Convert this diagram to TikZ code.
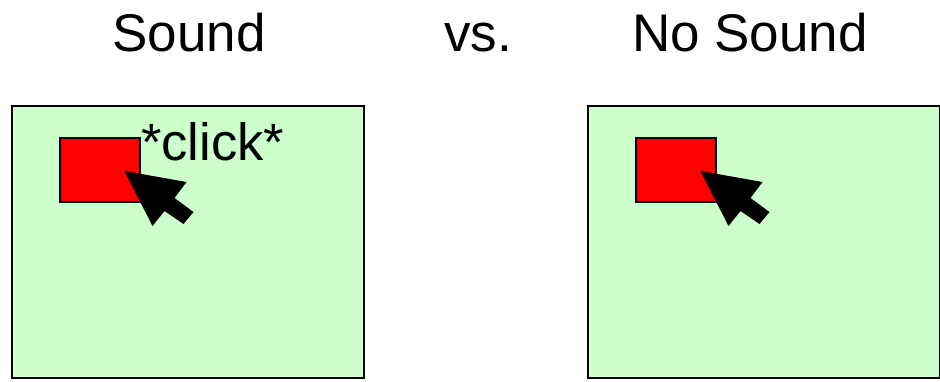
\documentclass[tikz,border=0pt]{standalone}
\usepackage{fontspec}
\setmainfont{Liberation Sans}
\definecolor{panelgreen}{RGB}{204,255,204}
\tikzset{
 x=1pt,y=-1pt,
 panel/.style={draw=black,line width=2.4pt,fill=panelgreen,minimum width=352pt,minimum height=272pt,inner sep=0,outer sep=0,anchor=north west},
 btn/.style={draw=black,line width=2.4pt,fill=red,minimum width=80pt,minimum height=64pt,inner sep=0,outer sep=0,anchor=north west},
 title/.style={font=\fontsize{53}{53}\selectfont,inner sep=0,anchor=base},
 clicktext/.style={font=\fontsize{52.5}{53}\selectfont,inner sep=0,anchor=base},
 cursor/.pic={\fill[black] (0,0) -- (28,55) -- (40,40) -- (59,53) -- (69,41) -- (50,27) -- (62,11) -- cycle;}
}
\begin{document}
\begin{tikzpicture}
\useasboundingbox (0,0) rectangle (940,382);
\node[title] (t1) at (189,52) {Sound};
\node[title] (t2) at (478,52) {vs.};
\node[title] (t3) at (750,52) {No Sound};
\node[panel] (p1) at (12,106) {};
\node[panel] (p2) at (588,106) {};
\node[btn] (b1) at (60,138) {};
\node[btn] (b2) at (636,138) {};
\pic at (124.5,171) {cursor};
\pic at (700.5,171) {cursor};
\node[clicktext] (c) at (212.5,161) {*click*};
\end{tikzpicture}
\end{document}
